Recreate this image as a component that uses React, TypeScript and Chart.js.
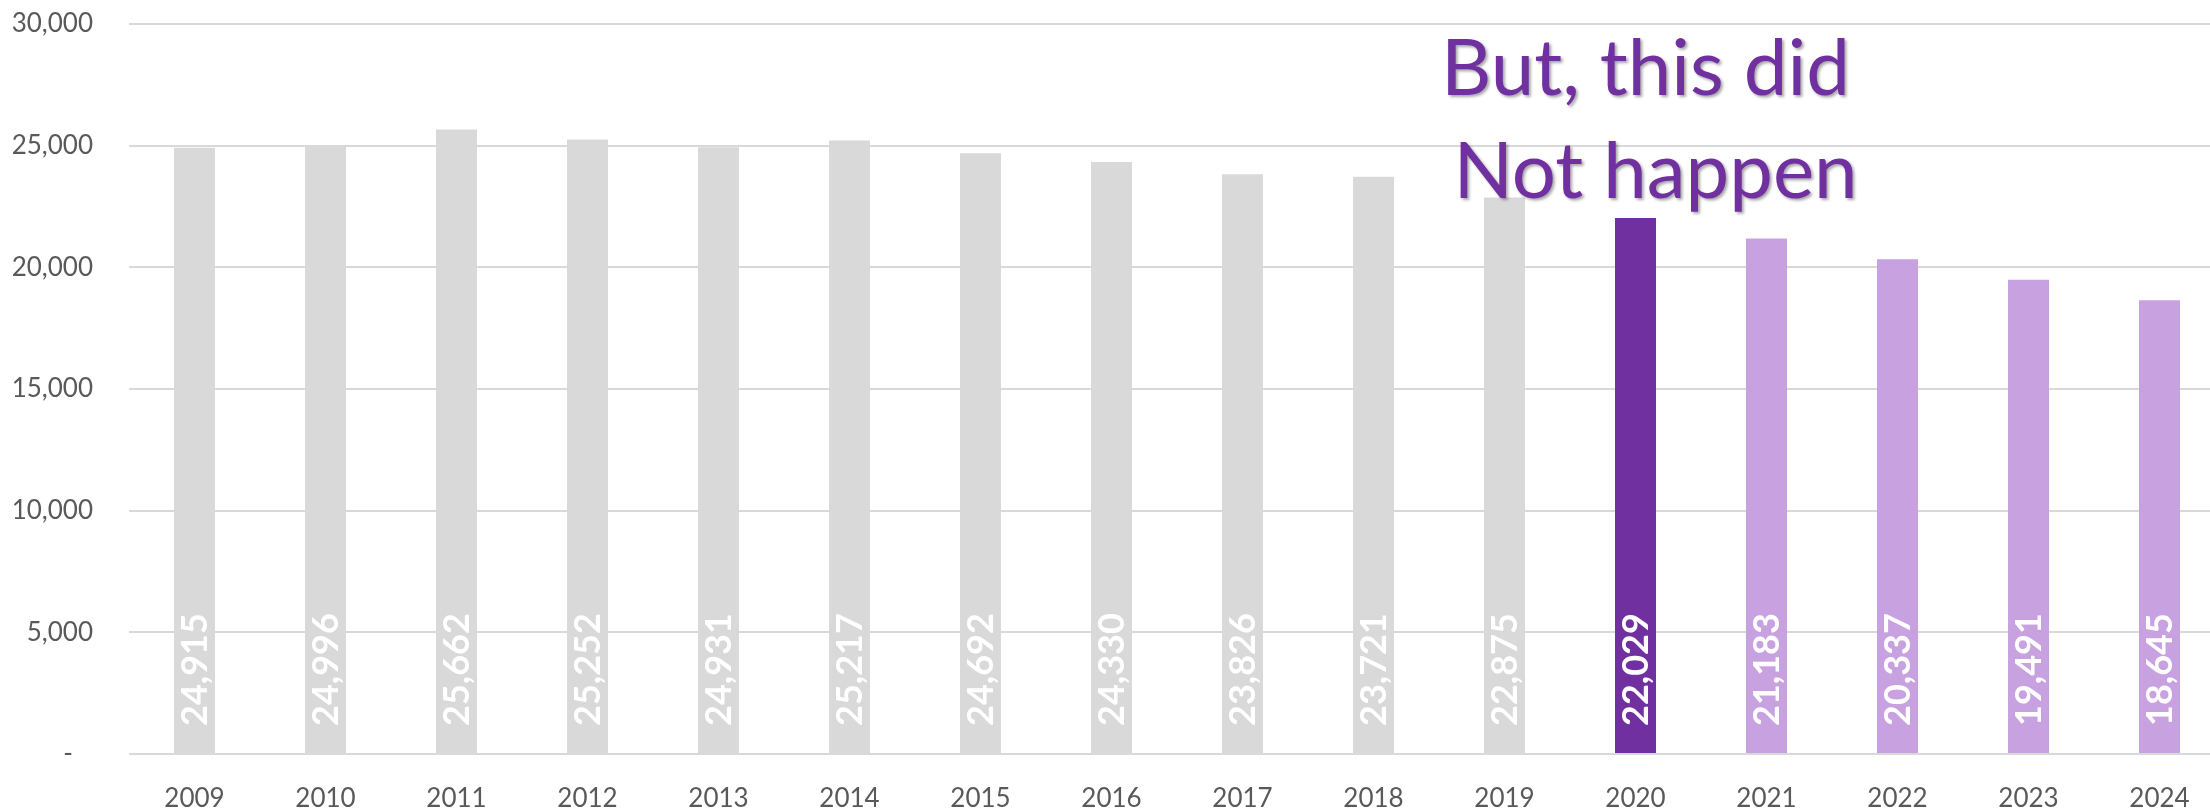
import React, { useEffect, useRef } from "react";
import { Chart, registerables } from "chart.js";

Chart.register(...registerables);

const years = ["2009","2010","2011","2012","2013","2014","2015","2016","2017","2018","2019","2020","2021","2022","2023","2024"];
const values = [24915, 24996, 25662, 25252, 24931, 25217, 24692, 24330, 23826, 23721, 22875, 22029, 21183, 20337, 19491, 18645];
const barColors = ["#D9D9D9","#D9D9D9","#D9D9D9","#D9D9D9","#D9D9D9","#D9D9D9","#D9D9D9","#D9D9D9","#D9D9D9","#D9D9D9","#D9D9D9","#7030A0","#C8A2E0","#C8A2E0","#C8A2E0","#C8A2E0"];
const yTicks = [0, 5000, 10000, 15000, 20000, 25000, 30000];
const annotationLines = ["But, this did", "Not happen"];

const FONT = "Lato, 'Open Sans', sans-serif";

const valueLabels = {
  id: "valueLabels",
  afterDatasetsDraw(chart: any) {
    const ctx = chart.ctx;
    const meta = chart.getDatasetMeta(0);
    ctx.save();
    ctx.fillStyle = "#FFFFFF";
    ctx.font = `bold 36px ${FONT}`;
    ctx.textAlign = "left";
    ctx.textBaseline = "middle";
    meta.data.forEach((bar: any, i: number) => {
      ctx.save();
      ctx.translate(bar.x + 1, bar.base - 27);
      ctx.rotate(-Math.PI / 2);
      ctx.fillText(values[i].toLocaleString("en-US"), 0, 0);
      ctx.restore();
    });
    ctx.restore();
  },
};

const annotation = {
  id: "annotation",
  afterDraw(chart: any) {
    const ctx = chart.ctx;
    const xs = chart.scales.x;
    const ys = chart.scales.y;
    const cx = xs.getPixelForValue(11) + 10;
    ctx.save();
    ctx.font = `78px ${FONT}`;
    ctx.fillStyle = "#7030A0";
    ctx.textAlign = "center";
    ctx.textBaseline = "alphabetic";
    ctx.shadowColor = "rgba(0,0,0,0.35)";
    ctx.shadowOffsetX = 2;
    ctx.shadowOffsetY = 2;
    ctx.shadowBlur = 3;
    ctx.fillText(annotationLines[0], cx, ys.getPixelForValue(27080));
    ctx.fillText(annotationLines[1], cx + 10, ys.getPixelForValue(22850));
    ctx.restore();
  },
};

export default function App() {
  const ref = useRef<HTMLCanvasElement | null>(null);
  useEffect(() => {
    if (!ref.current) return;
    const chart = new Chart(ref.current, {
      type: "bar",
      data: {
        labels: years,
        datasets: [
          {
            data: values,
            backgroundColor: barColors,
            barPercentage: 1,
            categoryPercentage: 0.313,
          },
        ],
      },
      options: {
        animation: false,
        responsive: true,
        maintainAspectRatio: false,
        layout: { padding: { top: 24, right: 0, left: 0, bottom: 0 } },
        plugins: { legend: { display: false }, tooltip: { enabled: false } },
        scales: {
          x: {
            grid: { display: false, drawTicks: false },
            border: { display: false },
            ticks: { color: "#595959", font: { family: FONT, size: 26 }, padding: 29, maxRotation: 0 },
            afterFit(scale: any) { scale.height = 56; scale.paddingLeft = 0; scale.paddingRight = 0; },
          },
          y: {
            min: 0,
            max: 30000,
            afterBuildTicks(scale: any) { scale.ticks = yTicks.map((v) => ({ value: v })); },
            grid: { color: "#D9D9D9", lineWidth: 2, drawTicks: false },
            border: { display: false },
            ticks: {
              color: "#595959",
              font: { family: FONT, size: 26 },
              padding: 36,
              callback: (v: any) => (Number(v) === 0 ? "-   " : Number(v).toLocaleString("en-US")),
            },
            afterFit(scale: any) { scale.width = 129; scale.paddingTop = 0; scale.paddingBottom = 0; },
          },
        },
      },
      plugins: [valueLabels, annotation],
    });
    return () => chart.destroy();
  }, []);
  return (
    <div style={{ position: "fixed", left: 0, top: 0, width: 2225, height: 810, background: "#fff" }}>
      <canvas ref={ref} />
    </div>
  );
}
